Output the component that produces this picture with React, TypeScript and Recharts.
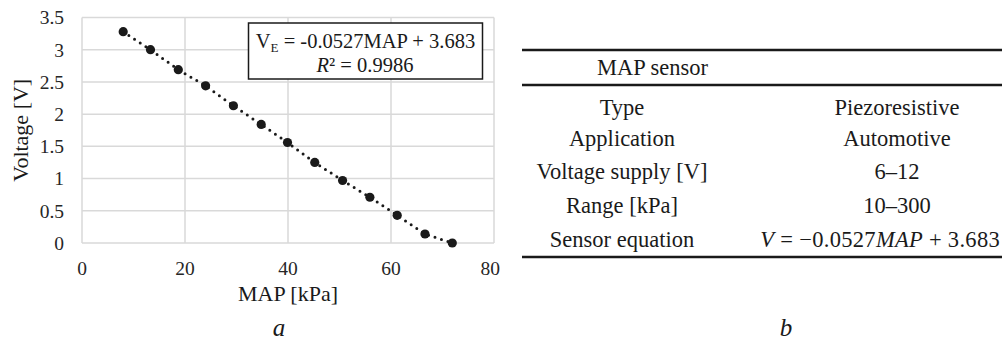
import { ComposedChart, Line, XAxis, YAxis, CartesianGrid } from "recharts";

// MAP sensor calibration: output voltage vs manifold pressure
const mapKpa = [8, 13.3, 18.7, 24, 29.4, 34.8, 39.9, 45.2, 50.6, 55.9, 61.2, 66.6, 71.9];
const voltage = [3.28, 3.0, 2.69, 2.44, 2.13, 1.84, 1.56, 1.25, 0.97, 0.71, 0.43, 0.14, 0.0];

const xTicks = [0, 20, 40, 60, 80];
const yTicks = [0, 0.5, 1, 1.5, 2, 2.5, 3, 3.5];

const tableLabels = ["Type", "Application", "Voltage supply [V]", "Range [kPa]", "Sensor equation"];
const tableValues = ["Piezoresistive", "Automotive", "6–12", "10–300"];

const SERIF = "Liberation Serif, Times New Roman, DejaVu Serif, serif";
const INK = "#1a1a1a";

const chartData = mapKpa.map((m, i) => ({ map: m, v: voltage[i] }));

export default function App() {
  const rowY = [115, 146, 179, 213, 247];

  return (
    <div
      style={{
        position: "absolute",
        left: 0,
        top: 0,
        width: 1002,
        height: 340,
        background: "#fff",
        fontFamily: SERIF,
      }}
    >
      <div style={{ position: "absolute", left: 0, top: 0 }}>
        <ComposedChart
          width={500}
          height={340}
          data={chartData}
          margin={{ top: 17.5, right: 6, bottom: 0, left: 0 }}
          style={{ fontFamily: SERIF }}
        >
          <CartesianGrid stroke="#d9d9d9" strokeWidth={1.5} />
          <XAxis
            type="number"
            dataKey="map"
            domain={[0, 80]}
            ticks={xTicks}
            height={97}
            axisLine={false}
            tickLine={false}
            tickSize={0}
            tickMargin={18}
            tick={{ fontSize: 19.5, fill: "#262626", style: { fontFamily: SERIF } }}
            label={{
              value: "MAP [kPa]",
              position: "insideTop",
              offset: 42,
              style: { fontSize: 22, fill: INK, fontFamily: SERIF },
            }}
          />
          <YAxis
            type="number"
            domain={[0, 3.5]}
            ticks={yTicks}
            width={82}
            axisLine={false}
            tickLine={false}
            tickSize={0}
            tickMargin={18}
            tick={{ fontSize: 19.5, fill: "#262626", style: { fontFamily: SERIF } }}
            label={{
              value: "Voltage [V]",
              angle: -90,
              position: "insideLeft",
              offset: 20,
              style: { fontSize: 22, fill: INK, fontFamily: SERIF, textAnchor: "middle" },
            }}
          />
          <Line
            type="linear"
            dataKey="v"
            stroke={INK}
            strokeWidth={3}
            strokeDasharray="0 6.8"
            strokeLinecap="round"
            dot={{ r: 4.6, fill: INK, stroke: "none" }}
            activeDot={false}
            isAnimationActive={false}
          />
        </ComposedChart>
      </div>

      {/* trendline equation, subfigure letters and the sensor table */}
      <svg
        width={1002}
        height={340}
        style={{ position: "absolute", left: 0, top: 0, pointerEvents: "none", fontFamily: SERIF }}
        fill={INK}
      >
        <rect x={248.5} y={23} width={234} height={56} fill="#fff" stroke={INK} strokeWidth={1.5} />
        <text x={365.5} y={48} textAnchor="middle" fontSize={20.5}>
          V<tspan fontSize={13} dy={4}>E</tspan>
          <tspan dy={-4}> = -0.0527MAP + 3.683</tspan>
        </text>
        <text x={365} y={72} textAnchor="middle" fontSize={20.5}>
          <tspan fontStyle="italic">R</tspan>² = 0.9986
        </text>

        <text x={279} y={336} textAnchor="middle" fontSize={25} fontStyle="italic">a</text>
        <text x={786} y={336} textAnchor="middle" fontSize={25} fontStyle="italic">b</text>

        <line x1={522} x2={1002} y1={50} y2={50} stroke={INK} strokeWidth={2.5} />
        <line x1={522} x2={1002} y1={85} y2={85} stroke={INK} strokeWidth={2.5} />
        <line x1={522} x2={1002} y1={257} y2={257} stroke={INK} strokeWidth={2.5} />

        <text x={597} y={75} fontSize={22.5}>MAP sensor</text>
        {tableLabels.map((t, i) => (
          <text key={t} x={622} y={rowY[i]} textAnchor="middle" fontSize={22.5}>
            {t}
          </text>
        ))}
        {tableValues.map((t, i) => (
          <text key={t} x={897} y={rowY[i]} textAnchor="middle" fontSize={22.5}>
            {t}
          </text>
        ))}
        <text x={1000} y={rowY[4]} textAnchor="end" fontSize={22.5} letterSpacing={0.3}>
          <tspan fontStyle="italic">V</tspan> = −0.0527<tspan fontStyle="italic">MAP</tspan> + 3.683
        </text>
      </svg>
    </div>
  );
}
